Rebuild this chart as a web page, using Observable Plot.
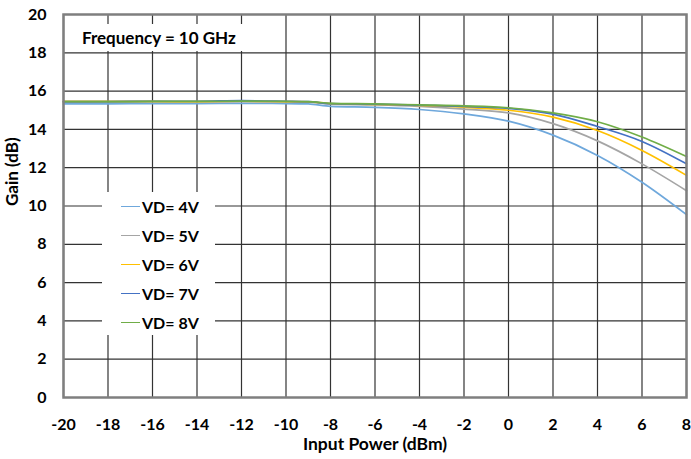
<!DOCTYPE html>
<html>
<head>
<meta charset="utf-8">
<script src="https://cdn.jsdelivr.net/npm/d3@7"></script>
<script src="https://cdn.jsdelivr.net/npm/@observablehq/plot@0.6"></script>
<style>
  body { margin: 0; background: #fff; }
  #wrap { position: relative; width: 691px; height: 459px; font-family: Lato, "Open Sans", sans-serif; }
  .note { position: absolute; background: #fff; font-weight: bold; font-size: 16px; color: #000; white-space: nowrap; }
  .row { height: 29px; display: flex; align-items: center; }
  .sw { width: 19px; height: 0; border-top: 1.5px solid; margin-left: 19px; margin-right: 2px; }
</style>
</head>
<body>
<div id="wrap"></div>
<script>
const inputPower = [-20, -18, -16, -14, -12, -10, -9, -8, -6, -4, -2, 0, 2, 4, 6, 8];
const seriesNames = ["VD= 4V", "VD= 5V", "VD= 6V", "VD= 7V", "VD= 8V"];
const seriesColors = ["#6FA8DC", "#A5A5A5", "#FFC000", "#4472C4", "#70AD47"];
const gainVD4 = [15.33, 15.33, 15.35, 15.35, 15.36, 15.35, 15.33, 15.20, 15.15, 15.04, 14.81, 14.43, 13.70, 12.64, 11.24, 9.55];
const gainVD5 = [15.42, 15.43, 15.44, 15.43, 15.45, 15.43, 15.42, 15.32, 15.28, 15.20, 15.06, 14.86, 14.30, 13.40, 12.20, 10.80];
const gainVD6 = [15.47, 15.46, 15.46, 15.45, 15.47, 15.45, 15.44, 15.35, 15.30, 15.25, 15.16, 15.00, 14.64, 13.94, 12.90, 11.60];
const gainVD7 = [15.45, 15.45, 15.47, 15.47, 15.50, 15.47, 15.45, 15.35, 15.32, 15.27, 15.20, 15.10, 14.80, 14.15, 13.37, 12.20];
const gainVD8 = [15.45, 15.45, 15.46, 15.46, 15.48, 15.46, 15.45, 15.36, 15.33, 15.28, 15.23, 15.13, 14.86, 14.40, 13.60, 12.58];
const xTicks = [-20, -18, -16, -14, -12, -10, -8, -6, -4, -2, 0, 2, 4, 6, 8];
const yTicks = [0, 2, 4, 6, 8, 10, 12, 14, 16, 18, 20];
const annotation = "Frequency = 10 GHz";
const xLabel = "Input Power (dBm)";
const yLabel = "Gain (dB)";

const allGains = [gainVD4, gainVD5, gainVD6, gainVD7, gainVD8];
const data = [];
allGains.forEach((arr, si) => arr.forEach((g, i) => data.push({series: seriesNames[si], x: inputPower[i], y: g})));

const chart = Plot.plot({
  width: 691,
  height: 459,
  marginLeft: 63,
  marginRight: 5,
  marginTop: 14,
  marginBottom: 62,
  style: {fontFamily: "Lato, 'Open Sans', sans-serif", fontSize: "16px", fontWeight: "bold", color: "#000", background: "#fff"},
  x: {domain: [-20, 8], ticks: xTicks, tickSize: 0, tickPadding: 21, label: null, tickFormat: d => String(d)},
  y: {domain: [0, 20], ticks: yTicks, tickSize: 0, tickPadding: 17, label: null},
  color: {domain: seriesNames, range: seriesColors},
  marks: [
    Plot.ruleX(xTicks, {stroke: "#333", strokeWidth: 1.2}),
    Plot.ruleY(yTicks, {stroke: "#333", strokeWidth: 1.2}),
    Plot.line(data, {x: "x", y: "y", z: "series", stroke: "series", strokeWidth: 1.7, curve: "monotone-x"}),
    Plot.frame({stroke: "#7f7f7f", strokeWidth: 2.5}),
    Plot.text([xLabel], {text: d => d, frameAnchor: "bottom", dy: 52, fontSize: 17.5, fontWeight: "bold", fill: "#000"}),
    Plot.text([yLabel], {text: d => d, frameAnchor: "left", dx: -51, rotate: -90, fontSize: 17, fontWeight: "bold", fill: "#000"})
  ]
});
const wrap = document.getElementById("wrap");
wrap.appendChild(chart);

const note = document.createElement("div");
note.className = "note";
note.style.cssText = "left:70px;top:24px;width:175px;height:27px;line-height:27px;padding-left:12px;box-sizing:border-box;font-size:17px;";
note.textContent = annotation;
wrap.appendChild(note);

const legend = document.createElement("div");
legend.className = "note";
legend.style.cssText = "left:102px;top:192px;width:113px;height:143px;";
seriesNames.forEach((name, i) => {
  const row = document.createElement("div");
  row.className = "row";
  const sw = document.createElement("span");
  sw.className = "sw";
  sw.style.borderTopColor = seriesColors[i];
  const t = document.createElement("span");
  t.textContent = name;
  row.appendChild(sw); row.appendChild(t);
  legend.appendChild(row);
});
wrap.appendChild(legend);
</script>
</body>
</html>
